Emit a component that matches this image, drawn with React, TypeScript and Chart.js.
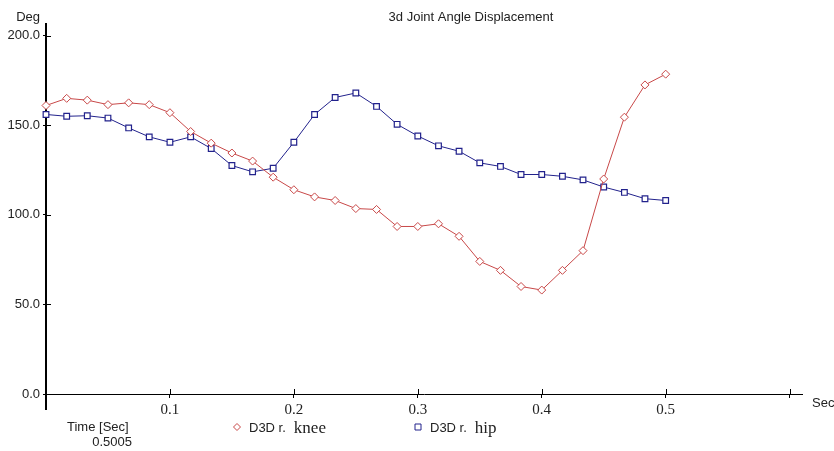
import React, { useEffect, useRef } from 'react';
import { Chart, registerables } from 'chart.js';

Chart.register(...registerables);

// ---- data ----
const timeSec = [
  0, 0.0167, 0.0333, 0.05, 0.0667, 0.0833, 0.1, 0.1167, 0.1333, 0.15, 0.1667,
  0.1833, 0.2, 0.2167, 0.2333, 0.25, 0.2667, 0.2833, 0.3, 0.3167, 0.3333,
  0.35, 0.3667, 0.3833, 0.4, 0.4167, 0.4333, 0.45, 0.4667, 0.4833, 0.5,
];
const kneeDeg = [
  161, 165, 164, 161.5, 162.5, 161.5, 157, 146.5, 140, 134.5, 130,
  121, 114, 110, 108, 103.5, 103, 93.5, 93.5, 95, 88,
  74, 69, 60, 58, 69, 80, 120, 154.5, 172.5, 178.5,
];
const hipDeg = [
  156, 155, 155.3, 154, 148.5, 143.5, 140.5, 143.5, 137, 127.5, 124,
  126, 140.5, 156, 165.5, 168, 160.5, 150.5, 144, 138.5, 135.5,
  129, 127, 122.5, 122.5, 121.5, 119.5, 115.5, 112.5, 109, 108,
];
const yTickValues = [0, 50, 100, 150, 200];
const xTickValues = [0.1, 0.2, 0.3, 0.4, 0.5, 0.6];
const xTickLabels = ['0.1', '0.2', '0.3', '0.4', '0.5', ''];
const chartTitle = '3d Joint Angle Displacement';
const yAxisTitle = 'Deg';
const xAxisTitle = 'Sec';
const cursorLabel = 'Time [Sec]';
const cursorValue = '0.5005';
const seriesPrefix = 'D3D r.';
const seriesNames = ['knee', 'hip'];

const RED = '#c84848';
const BLUE = '#22228c';
const SANS = '"Liberation Sans", Arial, sans-serif';
const SERIF = '"Liberation Serif", "Times New Roman", serif';

const decorPlugin = {
  id: 'decor',
  afterDraw(chart: any) {
    const ctx = chart.ctx as CanvasRenderingContext2D;
    const xs = chart.scales.x;
    const ys = chart.scales.y;
    ctx.save();
    ctx.strokeStyle = '#000';
    ctx.lineWidth = 1;
    // inner halves of crossing tick marks
    ctx.beginPath();
    yTickValues.forEach((v) => {
      const py = Math.round(ys.getPixelForValue(v)) + 0.5;
      ctx.moveTo(xs.left, py);
      ctx.lineTo(xs.left + 5, py);
    });
    xTickValues.forEach((v) => {
      const px = Math.round(xs.getPixelForValue(v)) + 0.5;
      ctx.moveTo(px, ys.bottom);
      ctx.lineTo(px, ys.bottom - 5);
    });
    ctx.stroke();
    // y axis continues slightly below the x axis
    ctx.lineWidth = 2;
    ctx.beginPath();
    ctx.moveTo(xs.left, ys.bottom);
    ctx.lineTo(xs.left, ys.bottom + 16);
    ctx.stroke();

    ctx.fillStyle = '#222';
    ctx.textBaseline = 'middle';
    ctx.font = `13px ${SANS}`;
    ctx.textAlign = 'center';
    ctx.fillText(chartTitle, 471, 17);
    ctx.textAlign = 'right';
    ctx.fillText(yAxisTitle, 40, 17);
    ctx.textAlign = 'left';
    ctx.fillText(xAxisTitle, 812, 403);
    ctx.fillText(cursorLabel, 67, 427);
    ctx.textAlign = 'right';
    ctx.fillText(cursorValue, 132, 442);

    // legend
    const items = [
      { x: 237, color: RED, style: 'diamond', name: seriesNames[0] },
      { x: 418, color: BLUE, style: 'square', name: seriesNames[1] },
    ];
    items.forEach((it) => {
      const cy = 427;
      ctx.strokeStyle = it.color;
      ctx.fillStyle = '#fff';
      ctx.lineWidth = 1;
      ctx.beginPath();
      if (it.style === 'diamond') {
        ctx.moveTo(it.x, cy - 3.5);
        ctx.lineTo(it.x + 3.5, cy);
        ctx.lineTo(it.x, cy + 3.5);
        ctx.lineTo(it.x - 3.5, cy);
        ctx.closePath();
      } else {
        ctx.rect(it.x - 3, cy - 3, 6, 6);
      }
      ctx.fill();
      ctx.stroke();
      ctx.fillStyle = '#222';
      ctx.textAlign = 'left';
      ctx.textBaseline = 'alphabetic';
      ctx.font = `13px ${SANS}`;
      const tx = it.x + 12;
      ctx.fillText(seriesPrefix, tx, 432);
      const w = ctx.measureText(seriesPrefix).width;
      ctx.font = `17px ${SERIF}`;
      ctx.fillText(it.name, tx + w + 8, 433);
    });
    ctx.restore();
  },
};

export default function App() {
  const ref = useRef<HTMLCanvasElement | null>(null);
  useEffect(() => {
    if (!ref.current) return;
    const chart = new Chart(ref.current, {
      type: 'line',
      data: {
        datasets: [
          {
            label: `${seriesPrefix} ${seriesNames[0]}`,
            data: timeSec.map((t, i) => ({ x: t, y: kneeDeg[i] })),
            borderColor: RED,
            borderWidth: 1,
            pointStyle: 'rectRot',
            pointRadius: 4,
            pointBorderColor: RED,
            pointBackgroundColor: '#fff',
            pointBorderWidth: 1,
            tension: 0,
            clip: false as any,
          },
          {
            label: `${seriesPrefix} ${seriesNames[1]}`,
            data: timeSec.map((t, i) => ({ x: t, y: hipDeg[i] })),
            borderColor: BLUE,
            borderWidth: 1,
            pointStyle: 'rect',
            pointRadius: 4,
            pointBorderColor: BLUE,
            pointBackgroundColor: '#fff',
            pointBorderWidth: 1.2,
            tension: 0,
            clip: false as any,
          },
        ],
      },
      options: {
        responsive: false,
        animation: false,
        devicePixelRatio: 1,
        layout: { padding: { top: 24, right: 32, bottom: 0, left: 0 } },
        plugins: {
          legend: { display: false },
          title: { display: false },
          tooltip: { enabled: false },
        },
        scales: {
          x: {
            type: 'linear',
            min: 0,
            max: 0.61,
            position: 'bottom',
            border: { display: true, color: '#000', width: 1 },
            grid: { display: true, drawOnChartArea: false, drawTicks: true, tickLength: 4, color: '#000' },
            afterBuildTicks: (s: any) => {
              s.ticks = xTickValues.map((v) => ({ value: v }));
            },
            afterFit: (s: any) => {
              s.height = 57;
            },
            ticks: {
              autoSkip: false,
              maxRotation: 0,
              padding: 3,
              color: '#222',
              font: { family: SERIF, size: 15 },
              callback: (v: any) => {
                const i = xTickValues.findIndex((t) => Math.abs(t - Number(v)) < 1e-6);
                return i >= 0 ? xTickLabels[i] : '';
              },
            },
          },
          y: {
            type: 'linear',
            min: 0,
            max: 206.5,
            position: 'left',
            border: { display: true, color: '#000', width: 2 },
            grid: { display: true, drawOnChartArea: false, drawTicks: true, tickLength: 3, color: '#000' },
            afterBuildTicks: (s: any) => {
              s.ticks = yTickValues.map((v) => ({ value: v }));
            },
            afterFit: (s: any) => {
              s.width = 46;
            },
            ticks: {
              autoSkip: false,
              padding: 3,
              color: '#222',
              font: { family: SANS, size: 13 },
              callback: (v: any) => Number(v).toFixed(1),
            },
          },
        },
      },
      plugins: [decorPlugin],
    } as any);
    return () => chart.destroy();
  }, []);

  return (
    <div style={{ position: 'fixed', left: 0, top: 0, width: 834, height: 451, background: '#fff' }}>
      <canvas ref={ref} width={834} height={451} style={{ display: 'block' }} />
    </div>
  );
}
